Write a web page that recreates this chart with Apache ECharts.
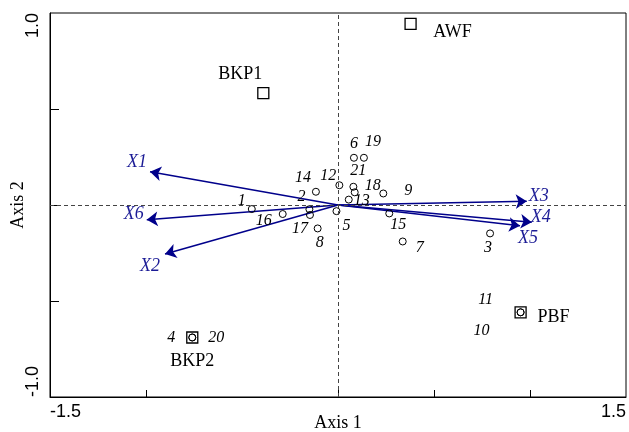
<!DOCTYPE html>
<html>
<head>
<meta charset="utf-8">
<script src="https://cdn.jsdelivr.net/npm/echarts@6/dist/echarts.min.js"></script>
<style>
html,body{margin:0;padding:0;background:#fff;}
#chart{width:629px;height:432px;}
</style>
</head>
<body>
<div id="chart"></div>
<script>
// ---- data ----
const siteIds = ['1','2','3','4','5','6','7','8','9','10','11','12','13','14','15','16','17','18','19','20','21'];
const siteAxis1 = [-0.449,-0.149,0.792,-0.759,-0.008,0.083,0.337,-0.106,0.236,0.951,0.951,0.007,0.056,-0.115,0.267,-0.288,-0.146,0.087,0.135,-0.759,0.080];
const siteAxis2 = [-0.021,-0.022,-0.148,-0.690,-0.032,0.246,-0.190,-0.122,0.060,-0.559,-0.559,0.103,0.028,0.069,-0.044,-0.047,-0.052,0.066,0.246,-0.690,0.095];

const groupNames = ['AWF','BKP1','BKP2','PBF'];
const groupAxis1 = [0.378,-0.389,-0.759,0.951];
const groupAxis2 = [0.943,0.583,-0.690,-0.559];

const vecNames = ['X1','X2','X3','X4','X5','X6'];
const vecAxis1 = [-0.979,-0.901,0.983,1.009,0.948,-0.996];
const vecAxis2 = [0.173,-0.255,0.019,-0.090,-0.108,-0.077];

const xTickValues = [-1,0,0.5,1];
const yTickValues = [-0.5,0,0.5];
const xLabelValues = [-1.5,1.5];
const yLabelValues = [-1.0,1.0];

// ---- label placement (style) ----
const siteLabelOffset = {
  '1':[-10,-8],'2':[-8,-12],'3':[-2,14],'4':[-21,0],'5':[10,15],'6':[0,-14],'7':[17,6],
  '8':[2,14],'9':[25,-3],'10':[-39,18],'11':[-35,-13],'12':[-11,-9],'13':[13,1],'14':[-13,-14],
  '15':[9,11],'16':[-19,7],'17':[-10,14],'18':[18,-7],'19':[9,-16],'20':[24,0],'21':[5,-16]
};
const groupLabelOffset = {'AWF':[42,8],'BKP1':[-23,-19],'BKP2':[0,24],'PBF':[33,5]};
const vecLabelOffset = {'X1':[-13,-10],'X2':[-15,12],'X3':[12,-5],'X4':[9,-5],'X5':[8,13],'X6':[-13,-6]};

const serif = '"Liberation Serif","Times New Roman",serif';
const sans = '"Liberation Sans",Arial,sans-serif';
const navy = '#00008B';

const chart = echarts.init(document.getElementById('chart'), null, {renderer:'canvas'});

const siteData = siteIds.map((id,i)=>({
  value:[siteAxis1[i],siteAxis2[i]],
  name:id,
  label:{offset:siteLabelOffset[id]}
}));
const groupData = groupNames.map((n,i)=>({
  value:[groupAxis1[i],groupAxis2[i]],
  name:n,
  label:{offset:groupLabelOffset[n]}
}));
const vecLines = vecNames.map((n,i)=>({coords:[[0,0],[vecAxis1[i],vecAxis2[i]]]}));
const vecTips = vecNames.map((n,i)=>({
  value:[vecAxis1[i],vecAxis2[i]],
  name:n,
  label:{offset:vecLabelOffset[n]}
}));

const noBorder = {textBorderWidth:0,textBorderColor:'transparent',textShadowBlur:0};

const option = {
  animation:false,
  backgroundColor:'#fff',
  grid:{left:50,top:13,width:576,height:384,outerBoundsMode:'none',containLabel:false,
    show:true,borderColor:'#000',borderWidth:1,backgroundColor:'transparent'},
  xAxis:{
    type:'value',min:-1.5,max:1.5,
    name:'Axis 1',nameLocation:'middle',nameGap:17,nameMoveOverlap:false,
    nameTextStyle:{fontFamily:serif,fontSize:18,color:'#000',verticalAlign:'top'},
    axisLine:{show:true,onZero:false,lineStyle:{color:'#000',width:1}},
    axisTick:{show:true,inside:true,length:7,customValues:xTickValues,lineStyle:{color:'#000',width:1}},
    axisLabel:{show:true,customValues:xLabelValues,margin:6,fontFamily:sans,fontSize:18,color:'#000',
      alignMinLabel:'left',alignMaxLabel:'right',
      formatter:v=>String(v)},
    splitLine:{show:false}
  },
  yAxis:{
    type:'value',min:-1,max:1,
    name:'Axis 2',nameLocation:'middle',nameGap:23,nameRotate:90,nameMoveOverlap:false,
    nameTextStyle:{fontFamily:serif,fontSize:18,color:'#000'},
    axisLine:{show:true,onZero:false,lineStyle:{color:'#000',width:1}},
    axisTick:{show:true,inside:true,length:9,customValues:yTickValues,lineStyle:{color:'#000',width:1}},
    axisLabel:{show:true,customValues:yLabelValues,rotate:90,margin:8,fontFamily:sans,fontSize:18,color:'#000',
      alignMinLabel:'left',alignMaxLabel:'right',
      formatter:v=>Number(v).toFixed(1)},
    splitLine:{show:false}
  },
  series:[
    {
      type:'lines',coordinateSystem:'cartesian2d',
      data:vecLines,
      symbol:['none','arrow'],symbolSize:11,
      lineStyle:{color:navy,width:1.5,opacity:1},
      z:3,silent:true,
      markLine:{
        silent:true,symbol:['none','none'],label:{show:false},
        lineStyle:{color:'#444',width:1,type:[4,3]},
        data:[{xAxis:0},{yAxis:0}]
      }
    },
    {
      type:'scatter',data:siteData,symbol:'circle',symbolSize:7,
      itemStyle:{color:'rgba(0,0,0,0)',borderColor:'#000',borderWidth:1,opacity:1},
      label:Object.assign({show:true,position:'inside',formatter:'{b}',fontFamily:serif,fontStyle:'italic',fontSize:16,color:'#000',align:'center',verticalAlign:'middle'},noBorder),
      z:4,silent:true
    },
    {
      type:'scatter',data:groupData,symbol:'rect',symbolSize:11,
      itemStyle:{color:'rgba(0,0,0,0)',borderColor:'#000',borderWidth:1.3,opacity:1},
      label:Object.assign({show:true,position:'inside',formatter:'{b}',fontFamily:serif,fontSize:18,color:'#000',align:'center',verticalAlign:'middle'},noBorder),
      z:4,silent:true
    },
    {
      type:'scatter',data:vecTips,symbol:'circle',symbolSize:1,
      itemStyle:{color:'rgba(0,0,0,0)',opacity:1},
      label:Object.assign({show:true,position:'inside',formatter:'{b}',fontFamily:serif,fontStyle:'italic',fontSize:18,color:'#1c1c96',align:'center',verticalAlign:'middle'},noBorder),
      z:5,silent:true
    }
  ]
};
chart.setOption(option);
</script>
</body>
</html>
